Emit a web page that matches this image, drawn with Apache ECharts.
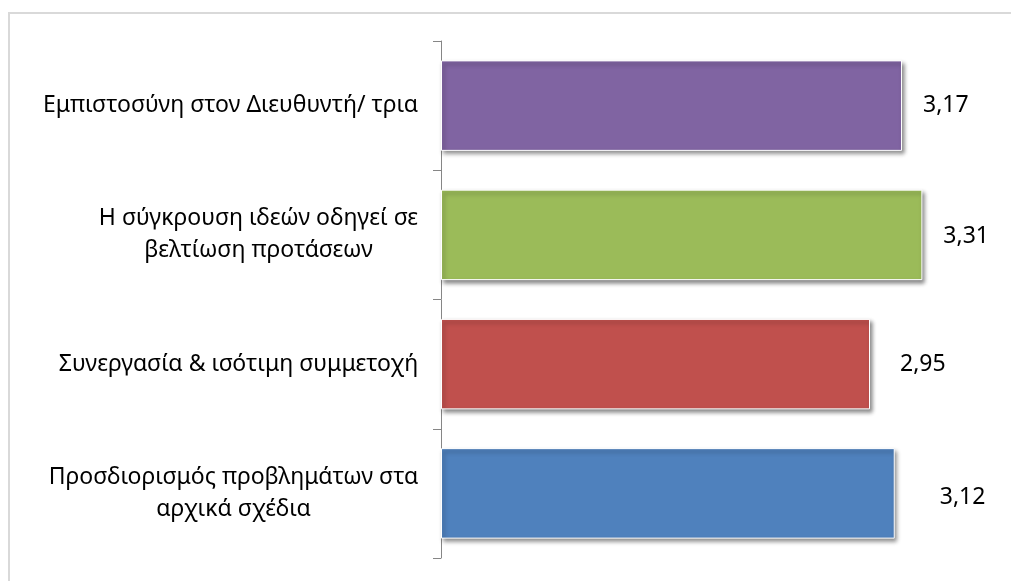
<!DOCTYPE html>
<html>
<head>
<meta charset="utf-8">
<script src="https://cdn.jsdelivr.net/npm/echarts@6/dist/echarts.min.js"></script>
<style>
  html, body { margin: 0; padding: 0; background: #ffffff; }
  #chart { width: 1011px; height: 581px; }
</style>
</head>
<body>
<div id="chart"></div>
<script>
// Categories, top to bottom
const categories = [
  'Εμπιστοσύνη στον Διευθυντή/ τρια',
  'Η σύγκρουση ιδεών οδηγεί σε\nβελτίωση προτάσεων',
  'Συνεργασία & ισότιμη συμμετοχή',
  'Προσδιορισμός προβλημάτων στα\nαρχικά σχέδια'
];
// Mean scores
const values = [3.17, 3.31, 2.95, 3.12];
// Value labels as printed
const valueLabels = ['3,17', '3,31', '2,95', '3,12'];
// Bar colours
const barColors = ['#8064A2', '#9BBB59', '#C0504D', '#4F81BD'];

const FONT_FAMILY = '"Noto Sans", "Open Sans", sans-serif';
const FONT_SIZE = 23;

// Measure each label's widest line so lines can be centred inside a right-aligned block
const measureCtx = document.createElement('canvas').getContext('2d');
measureCtx.font = FONT_SIZE + 'px ' + FONT_FAMILY;
const rich = {};
categories.forEach((c, i) => {
  const w = Math.max(...c.split('\n').map(l => measureCtx.measureText(l).width));
  rich['c' + i] = {
    width: Math.ceil(w) + 1,
    align: 'center',
    fontSize: FONT_SIZE,
    fontFamily: FONT_FAMILY,
    color: '#000000',
    lineHeight: 32
  };
});

// Per-bar nudges of the value labels
const labelOffsets = [[0, 0], [0, 2], [9, 0], [24, 4]];

const chart = echarts.init(document.getElementById('chart'), null, { renderer: 'canvas' });

chart.setOption({
  backgroundColor: '#ffffff',
  animation: false,
  graphic: [{
    type: 'rect',
    shape: { x: 9, y: 13, width: 1010, height: 580 },
    style: { fill: 'none', stroke: '#d9d9d9', lineWidth: 2 },
    silent: true,
    z: -1
  }],
  grid: { left: 441, top: 41, width: 509, height: 517, containLabel: false },
  xAxis: {
    type: 'value',
    min: 0,
    max: 3.5,
    show: false
  },
  yAxis: {
    type: 'category',
    inverse: true,
    data: categories,
    axisLine: { show: true, lineStyle: { color: '#868686', width: 1 } },
    axisTick: { show: true, length: 8, lineStyle: { color: '#868686' } },
    axisLabel: {
      margin: 22,
      align: 'right',
      formatter: (val, idx) => val.split('\n').map(l => '{c' + idx + '|' + l + '}').join('\n'),
      rich: rich
    },
    splitLine: { show: false }
  },
  series: [{
    type: 'bar',
    barCategoryGap: '30%',
    data: values.map((v, i) => ({
      value: v,
      itemStyle: { color: barColors[i] },
      label: { offset: labelOffsets[i] }
    })),
    itemStyle: {
      borderColor: '#ffffff',
      borderWidth: 1,
      shadowColor: 'rgba(0,0,0,0.45)',
      shadowBlur: 4,
      shadowOffsetX: 2,
      shadowOffsetY: 3
    },
    label: {
      show: true,
      position: 'right',
      distance: 21,
      formatter: p => valueLabels[p.dataIndex],
      color: '#000000',
      fontSize: FONT_SIZE,
      fontFamily: FONT_FAMILY
    }
  }]
});
</script>
</body>
</html>
